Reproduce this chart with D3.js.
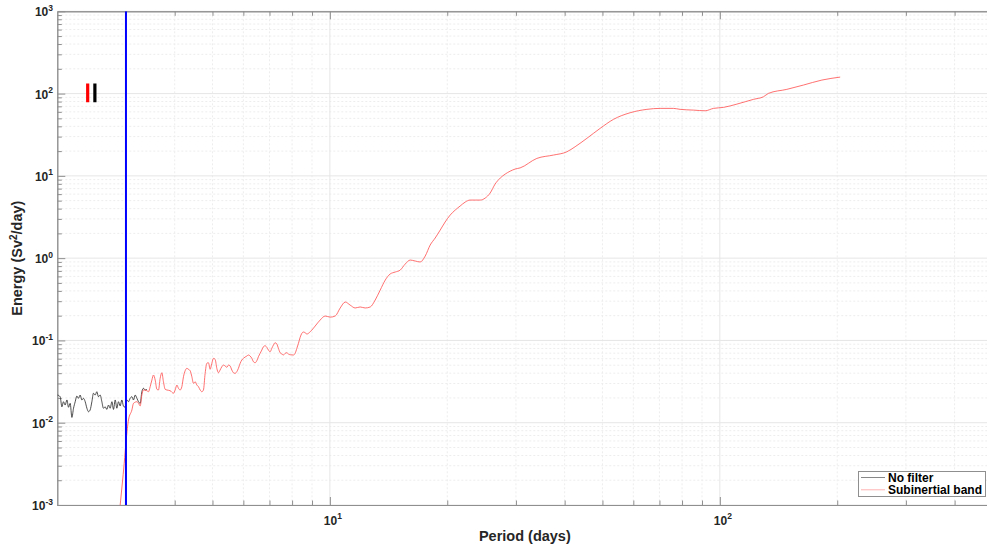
<!DOCTYPE html>
<html>
<head>
<meta charset="utf-8">
<script src="https://cdn.jsdelivr.net/npm/d3@7"></script>
<style>
  html, body { margin: 0; padding: 0; background: #fff; }
  svg { display: block; font-family: "Liberation Sans", Arial, Helvetica, sans-serif; }
</style>
</head>
<body>
<svg id="chart" width="987" height="547"></svg>
<script>
// Energy spectrum: unfiltered series vs. subinertial band (log-log)
const noFilterPeriod = [2.002, 2.034, 2.055, 2.074, 2.095, 2.117, 2.137, 2.158, 2.180, 2.201, 2.223, 2.245, 2.266, 2.289, 2.312, 2.334, 2.358, 2.382, 2.404, 2.428, 2.453, 2.476, 2.501, 2.526, 2.550, 2.576, 2.602, 2.626, 2.653, 2.680, 2.706, 2.733, 2.761, 2.787, 2.815, 2.843, 2.870, 2.899, 2.928, 2.955, 2.986, 3.016, 3.045, 3.075, 3.107, 3.136, 3.168, 3.200, 3.231, 3.263, 3.295, 3.327, 3.360, 3.394];
const noFilterEnergy = [0.0217, 0.0207, 0.0156, 0.0180, 0.0164, 0.0189, 0.0154, 0.0172, 0.0116, 0.0150, 0.0180, 0.0211, 0.0198, 0.0217, 0.0189, 0.0198, 0.0180, 0.0150, 0.0136, 0.0143, 0.0180, 0.0228, 0.0217, 0.0238, 0.0207, 0.0217, 0.0180, 0.0150, 0.0156, 0.0145, 0.0164, 0.0150, 0.0180, 0.0145, 0.0189, 0.0150, 0.0180, 0.0160, 0.0189, 0.0160, 0.0154, 0.0189, 0.0180, 0.0198, 0.0207, 0.0189, 0.0217, 0.0198, 0.0180, 0.0172, 0.0238, 0.0262, 0.0250, 0.0254];

const subPeriod = [2.882, 2.933, 2.969, 3.004, 3.045, 3.107, 3.136, 3.200, 3.231, 3.263, 3.295, 3.327, 3.394, 3.427, 3.461, 3.496, 3.529, 3.565, 3.601, 3.635, 3.671, 3.708, 3.743, 3.781, 3.819, 3.894, 3.971, 4.011, 4.052, 4.090, 4.131, 4.173, 4.213, 4.255, 4.298, 4.339, 4.383, 4.427, 4.469, 4.514, 4.559, 4.603, 4.649, 4.696, 4.740, 4.788, 4.836, 4.882, 4.931, 4.981, 5.029, 5.079, 5.130, 5.179, 5.230, 5.284, 5.334, 5.388, 5.442, 5.494, 5.549, 5.605, 5.658, 5.714, 5.772, 5.827, 5.888, 5.946, 6.003, 6.064, 6.124, 6.182, 6.245, 6.308, 6.368, 6.432, 6.497, 6.558, 6.624, 6.691, 6.754, 6.823, 6.892, 6.957, 7.028, 7.098, 7.165, 7.237, 7.311, 7.380, 7.454, 7.530, 7.602, 7.677, 7.755, 7.829, 7.909, 8.064, 8.147, 8.229, 8.307, 8.390, 8.475, 8.555, 8.642, 8.730, 8.812, 8.902, 8.992, 9.168, 9.443, 9.725, 10.02, 10.32, 10.63, 10.95, 11.27, 11.61, 11.96, 12.32, 12.69, 13.07, 13.46, 13.87, 14.27, 14.71, 15.15, 15.60, 16.07, 16.55, 17.04, 17.56, 18.08, 18.62, 19.18, 19.75, 20.35, 20.96, 21.58, 22.23, 22.89, 23.59, 24.29, 25.02, 25.76, 26.53, 27.34, 28.15, 28.99, 29.86, 30.75, 33.94, 37.45, 40.52, 42.56, 45.61, 49.33, 53.36, 58.88, 65.0, 70.3, 76.0, 79.1, 85.6, 91.7, 96.3, 102.1, 110.6, 122.0, 129.4, 133.2, 148.5, 163.8, 182.6, 203.5];
const subEnergy = [0.000756, 0.00175, 0.00321, 0.00617, 0.0108, 0.0143, 0.0172, 0.0180, 0.0172, 0.0160, 0.0217, 0.0250, 0.0245, 0.0238, 0.0274, 0.0330, 0.0380, 0.0330, 0.0255, 0.0250, 0.0346, 0.0405, 0.0315, 0.0255, 0.0250, 0.0245, 0.0228, 0.0250, 0.0287, 0.0262, 0.0250, 0.0274, 0.0362, 0.0428, 0.0458, 0.0446, 0.0428, 0.0362, 0.0301, 0.0315, 0.0287, 0.0274, 0.0250, 0.0238, 0.0250, 0.0398, 0.0527, 0.0536, 0.0446, 0.0527, 0.0606, 0.0589, 0.0458, 0.0405, 0.0437, 0.0479, 0.0502, 0.0489, 0.0471, 0.0502, 0.0489, 0.0437, 0.0405, 0.0398, 0.0417, 0.0458, 0.0527, 0.0578, 0.0606, 0.0629, 0.0646, 0.0665, 0.0646, 0.0606, 0.0551, 0.0536, 0.0567, 0.0634, 0.0697, 0.0764, 0.0838, 0.0862, 0.0824, 0.0764, 0.0729, 0.0802, 0.0879, 0.0938, 0.0904, 0.0802, 0.0709, 0.0684, 0.0665, 0.0697, 0.0709, 0.0684, 0.0670, 0.0665, 0.0697, 0.0802, 0.0922, 0.109, 0.122, 0.1265, 0.124, 0.1196, 0.122, 0.1276, 0.1337, 0.1496, 0.177, 0.198, 0.192, 0.198, 0.248, 0.293, 0.269, 0.248, 0.255, 0.248, 0.255, 0.310, 0.409, 0.542, 0.641, 0.678, 0.716, 0.847, 0.948, 0.923, 0.898, 1.061, 1.443, 1.755, 2.19, 2.75, 3.34, 3.84, 4.30, 4.80, 5.08, 5.08, 5.08, 5.37, 6.18, 7.95, 9.40, 10.5, 11.4, 12.1, 12.5, 16.3, 17.9, 19.6, 22.6, 28.6, 37.8, 48.6, 58.5, 64.3, 66.1, 66.1, 64.3, 63.0, 61.8, 66.1, 67.9, 74.5, 85.1, 91.5, 100.5, 112.5, 126.9, 145.9, 158.6];

// Inertial-period marker (days)
const cutoffPeriod = [3.0];
// Confidence bars: periods and energy span
const ciPeriod = [2.393, 2.497];
const ciColor = ["red", "black"];
const ciLow = [78.2, 78.2];
const ciHigh = [133, 133];

const xMajor = [10, 100];
const xMinor = [3, 4, 5, 6, 7, 8, 9, 20, 30, 40, 50, 60, 70, 80, 90, 200, 300, 400];
const yMajorExp = [-3, -2, -1, 0, 1, 2, 3];
const yMinor = [];
[-3, -2, -1, 0, 1, 2].forEach(e => { for (let k = 2; k <= 9; k++) yMinor.push(k * Math.pow(10, e)); });

const legendLabels = ["No filter", "Subinertial band"];

const W = 987, H = 547;
const plot = { left: 57.3, top: 11.3, right: 992.4, bottom: 505 };

const x = d3.scaleLog().domain([2, 500]).range([plot.left, plot.right]);
const y = d3.scaleLog().domain([1e-3, 1e3]).range([plot.bottom, plot.top]);

const svg = d3.select("#chart");
svg.append("rect").attr("width", W).attr("height", H).attr("fill", "#fff");

svg.append("defs").append("clipPath").attr("id", "clip")
  .append("rect").attr("x", plot.left).attr("y", plot.top)
  .attr("width", plot.right - plot.left).attr("height", plot.bottom - plot.top);

const grid = svg.append("g");
// minor grid (dotted)
grid.selectAll(".xminor").data(xMinor).join("line")
  .attr("x1", d => x(d)).attr("x2", d => x(d))
  .attr("y1", plot.top).attr("y2", plot.bottom)
  .attr("stroke", "#ededed").attr("stroke-width", 1).attr("stroke-dasharray", "2,2");
grid.selectAll(".yminor").data(yMinor).join("line")
  .attr("y1", d => y(d)).attr("y2", d => y(d))
  .attr("x1", plot.left).attr("x2", plot.right)
  .attr("stroke", "#ededed").attr("stroke-width", 1).attr("stroke-dasharray", "2,2");
// major grid (solid)
grid.selectAll(".xmajor").data(xMajor).join("line")
  .attr("x1", d => x(d)).attr("x2", d => x(d))
  .attr("y1", plot.top).attr("y2", plot.bottom)
  .attr("stroke", "#e6e6e6").attr("stroke-width", 1);
grid.selectAll(".ymajor").data(yMajorExp.map(e => Math.pow(10, e))).join("line")
  .attr("y1", d => y(d)).attr("y2", d => y(d))
  .attr("x1", plot.left).attr("x2", plot.right)
  .attr("stroke", "#e6e6e6").attr("stroke-width", 1);

// Axes: ticks pointing inward on all four sides
const axisColor = "#8f8f8f";
function styleAxis(g) {
  g.select(".domain").attr("stroke", axisColor);
  g.selectAll(".tick line").attr("stroke", axisColor);
  g.selectAll(".tick text").remove();
}
svg.append("g").attr("transform", `translate(0,${plot.bottom})`)
  .call(d3.axisBottom(x).tickValues(xMajor).tickSize(-8).tickSizeOuter(0).tickFormat(""))
  .call(styleAxis);
svg.append("g").attr("transform", `translate(0,${plot.bottom})`)
  .call(d3.axisBottom(x).tickValues(xMinor).tickSize(-4.5).tickSizeOuter(0).tickFormat(""))
  .call(styleAxis);
svg.append("g").attr("transform", `translate(0,${plot.top})`)
  .call(d3.axisTop(x).tickValues(xMajor).tickSize(-8).tickSizeOuter(0).tickFormat(""))
  .call(styleAxis);
svg.append("g").attr("transform", `translate(0,${plot.top})`)
  .call(d3.axisTop(x).tickValues(xMinor).tickSize(-4.5).tickSizeOuter(0).tickFormat(""))
  .call(styleAxis);
svg.append("g").attr("transform", `translate(${plot.left},0)`)
  .call(d3.axisLeft(y).tickValues(yMajorExp.map(e => Math.pow(10, e))).tickSize(-8).tickSizeOuter(0).tickFormat(""))
  .call(styleAxis);
svg.append("g").attr("transform", `translate(${plot.left},0)`)
  .call(d3.axisLeft(y).tickValues(yMinor).tickSize(-4.5).tickSizeOuter(0).tickFormat(""))
  .call(styleAxis);

// Tick labels with superscript exponents
const lblColor = "#262626";
svg.append("g").selectAll("text").data(yMajorExp).join("text")
  .attr("x", 53).attr("y", d => y(Math.pow(10, d)) + 5)
  .attr("text-anchor", "end").attr("font-weight", "bold").attr("font-size", 12).attr("fill", lblColor)
  .each(function (d) {
    const t = d3.select(this);
    t.append("tspan").text("10");
    t.append("tspan").attr("dy", -5.5).attr("font-size", 8.5).text(String(d));
  });
svg.append("g").selectAll("text").data(xMajor).join("text")
  .attr("x", d => x(d) + 3).attr("y", 524.5)
  .attr("text-anchor", "middle").attr("font-weight", "bold").attr("font-size", 12).attr("fill", lblColor)
  .each(function (d) {
    const t = d3.select(this);
    t.append("tspan").text("10");
    t.append("tspan").attr("dy", -5.5).attr("font-size", 8.5).text(String(Math.round(Math.log10(d))));
  });

// Axis titles
svg.append("text").attr("x", (plot.left + plot.right) / 2).attr("y", 541)
  .attr("text-anchor", "middle").attr("font-weight", "bold").attr("font-size", 14.5).attr("fill", lblColor)
  .text("Period (days)");
const yt = svg.append("text").attr("transform", `translate(22,${(plot.top + plot.bottom) / 2}) rotate(-90)`)
  .attr("text-anchor", "middle").attr("font-weight", "bold").attr("font-size", 14.5).attr("fill", lblColor);
yt.append("tspan").text("Energy (Sv");
yt.append("tspan").attr("dy", -5).attr("font-size", 10).text("2");
yt.append("tspan").attr("dy", 5).text("/day)");

// Curves
const line = d3.line().x(d => x(d[0])).y(d => y(d[1])).curve(d3.curveMonotoneX);
const plotG = svg.append("g").attr("clip-path", "url(#clip)");
plotG.append("path").datum(d3.zip(noFilterPeriod, noFilterEnergy))
  .attr("d", line).attr("fill", "none").attr("stroke", "#222").attr("stroke-width", 0.8);
plotG.append("path").datum(d3.zip(subPeriod, subEnergy))
  .attr("d", line).attr("fill", "none").attr("stroke", "#ff4d4d").attr("stroke-width", 0.8);

// Cutoff line
plotG.selectAll(".cut").data(cutoffPeriod).join("line")
  .attr("x1", d => x(d)).attr("x2", d => x(d))
  .attr("y1", plot.top).attr("y2", plot.bottom)
  .attr("stroke", "#0000ff").attr("stroke-width", 2);

// Confidence bars
plotG.selectAll(".ci").data(ciPeriod).join("line")
  .attr("x1", d => x(d)).attr("x2", d => x(d))
  .attr("y1", (d, i) => y(ciHigh[i])).attr("y2", (d, i) => y(ciLow[i]))
  .attr("stroke", (d, i) => ciColor[i]).attr("stroke-width", 3.2);

// Legend
const lg = svg.append("g");
lg.append("rect").attr("x", 858.5).attr("y", 471.5).attr("width", 127).attr("height", 25)
  .attr("fill", "#fff").attr("stroke", "#8f8f8f").attr("stroke-width", 1);
const legendColors = ["#888", "#ffb3b3"];
legendLabels.forEach((lab, i) => {
  const yy = 477.5 + i * 12.3;
  lg.append("line").attr("x1", 861).attr("x2", 885).attr("y1", yy).attr("y2", yy)
    .attr("stroke", legendColors[i]).attr("stroke-width", 1);
  lg.append("text").attr("x", 888).attr("y", yy + 4.3)
    .attr("font-weight", "bold").attr("font-size", 12).attr("fill", "#000").text(lab);
});
</script>
</body>
</html>
